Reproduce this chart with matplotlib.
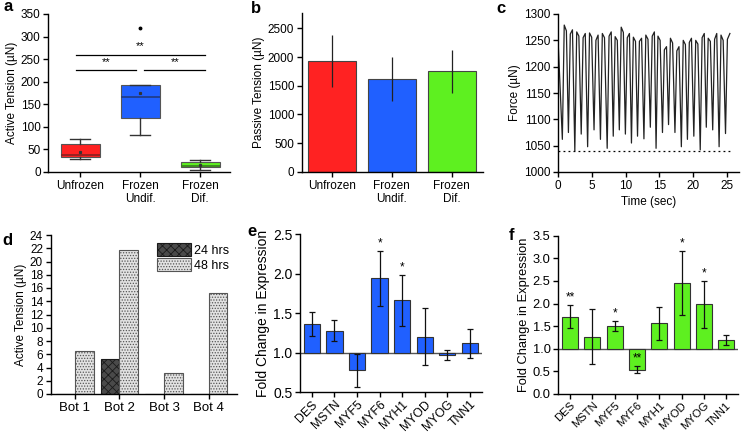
import matplotlib

matplotlib.use("Agg")
import matplotlib.pyplot as plt
import numpy as np

plt.rcParams["font.family"] = ["Liberation Sans", "DejaVu Sans"]
plt.rcParams["font.size"] = 8.5
plt.rcParams["hatch.linewidth"] = 0.6
plt.rcParams["axes.linewidth"] = 1.0

W, H = 742, 433

RED = "#ff2222"
BLUE = "#2060ff"
GREEN = "#5ef020"

# ---- panel a: box plot of active tension
GROUPS = ["Unfrozen", "Frozen\nUndif.", "Frozen\nDif."]
BOX_Q1 = [34, 120, 11]
BOX_MED = [38, 167, 13]
BOX_Q3 = [62, 192, 22]
BOX_LO = [29, 82, 5]
BOX_HI = [74, 192, 26]
BOX_MEAN = [45, 175, 15]
BOX_FLIERS = [[], [318], []]
BOX_COLORS = [RED, BLUE, GREEN]
MEDIAN_COLORS = ["#8a2020", "#203a80", "#3a7a20"]

# ---- panel b: passive tension
PASSIVE = [1930, 1620, 1750]
PASSIVE_ERR = [455, 377, 375]

# ---- panel c: force trace (troughs and the two tops of each twitch)
TRACE_START = (0.0, 1240)
TROUGH_T = [0.6, 1.5, 2.45, 3.4, 4.35, 5.3, 6.25, 7.25, 8.15, 9.05, 9.95, 10.85,
            11.75, 12.7, 13.65, 14.5, 15.45, 16.35, 17.3, 18.25, 19.15, 20.1,
            21.05, 21.95, 22.9, 23.85, 24.8]
TROUGH_F = [1062, 1075, 1040, 1072, 1048, 1080, 1062, 1045, 1068, 1080, 1072, 1055,
            1068, 1063, 1085, 1045, 1075, 1090, 1075, 1048, 1062, 1068, 1042, 1085,
            1080, 1048, 1073]
TOP1_T = [0.88, 1.78, 2.73, 3.68, 4.63, 5.58, 6.53, 7.53, 8.43, 9.33, 10.23, 11.13,
          12.03, 12.98, 13.93, 14.78, 15.73, 16.63, 17.58, 18.53, 19.43, 20.38, 21.33,
          22.23, 23.18, 24.13, 25.08]
TOP1_F = [1279, 1262, 1266, 1255, 1264, 1250, 1263, 1258, 1257, 1275, 1255, 1256,
          1248, 1260, 1258, 1258, 1232, 1254, 1230, 1250, 1246, 1250, 1255, 1254,
          1252, 1260, 1252]
TOP2_T = [1.2, 2.1, 3.05, 4.0, 4.95, 5.9, 6.85, 7.85, 8.75, 9.65, 10.55, 11.45,
          12.35, 13.3, 14.25, 15.1, 16.05, 16.95, 17.9, 18.85, 19.75, 20.7, 21.65,
          22.55, 23.5, 24.45, 25.45]
TOP2_F = [1268, 1270, 1258, 1263, 1256, 1260, 1255, 1266, 1250, 1265, 1263, 1248,
          1254, 1252, 1266, 1250, 1238, 1245, 1238, 1242, 1254, 1243, 1263, 1248,
          1263, 1250, 1263]
BASELINE_F = 1040

# ---- panel d: active tension by bot
BOTS = ["Bot 1", "Bot 2", "Bot 3", "Bot 4"]
T24 = [0, 5.3, 0, 0]
T48 = [6.5, 21.7, 3.2, 15.2]

# ---- panels e, f: fold change in expression
GENES = ["DES", "MSTN", "MYF5", "MYF6", "MYH1", "MYOD", "MYOG", "TNN1"]
E_VAL = [1.36, 1.28, 0.78, 1.94, 1.66, 1.20, 0.97, 1.12]
E_ERR = [0.15, 0.13, 0.21, 0.35, 0.32, 0.36, 0.065, 0.185]
E_SIG = ["", "", "", "*", "*", "", "", ""]
F_VAL = [1.71, 1.27, 1.51, 0.54, 1.56, 2.46, 1.98, 1.20]
F_ERR = [0.26, 0.60, 0.11, 0.075, 0.37, 0.71, 0.52, 0.115]
F_SIG = ["**", "", "*", "**", "", "*", "*", ""]


def rect(left, top, right, bottom):
    return [left / W, 1 - bottom / H, (right - left) / W, (bottom - top) / H]


def style(ax, size=8.5):
    for s in ("top", "right"):
        ax.spines[s].set_visible(False)
    ax.tick_params(direction="out", length=3.5, width=1, labelsize=size, pad=2)


fig = plt.figure(figsize=(W / 100, H / 100), dpi=100)

# ---------------- a
ax = fig.add_axes(rect(48.3, 14, 230, 172))
style(ax)
stats = []
for i in range(3):
    stats.append(dict(q1=BOX_Q1[i], med=BOX_MED[i], q3=BOX_Q3[i], whislo=BOX_LO[i],
                      whishi=BOX_HI[i], mean=BOX_MEAN[i], fliers=BOX_FLIERS[i]))
pos = np.arange(1, 4)
bp = ax.bxp(stats, positions=pos, widths=0.65, patch_artist=True, showmeans=True,
            meanprops=dict(marker="s", markersize=1.3, markerfacecolor="#333",
                           markeredgecolor="#333"),
            flierprops=dict(marker="o", markersize=1.8, markerfacecolor="k",
                            markeredgecolor="k"),
            whiskerprops=dict(color="#333", lw=1), capprops=dict(color="#333", lw=1),
            capwidths=0.32)
for patch, c in zip(bp["boxes"], BOX_COLORS):
    patch.set_facecolor(c)
    patch.set_edgecolor("#555")
    patch.set_linewidth(0.8)
for med, c in zip(bp["medians"], MEDIAN_COLORS):
    med.set_color(c)
    med.set_linewidth(1.2)
ax.plot([0.94, 3.08], [259, 259], color="k", lw=0.9)
ax.plot([0.94, 1.94], [225, 225], color="k", lw=0.9)
ax.plot([2.06, 3.08], [225, 225], color="k", lw=0.9)
ax.text(2.0, 268, "**", ha="center", va="bottom", fontsize=8)
ax.text(1.43, 233, "**", ha="center", va="bottom", fontsize=8)
ax.text(2.58, 233, "**", ha="center", va="bottom", fontsize=8)
ax.set_xlim(0.47, 3.5)
ax.set_ylim(0, 350)
ax.set_yticks(range(0, 351, 50))
ax.set_xticks(pos)
ax.set_xticklabels(GROUPS, linespacing=1.15)
ax.set_ylabel("Active Tension (µN)", labelpad=2)

# ---------------- b
ax = fig.add_axes(rect(301.7, 13.3, 482.7, 172))
style(ax)
ax.bar(pos, PASSIVE, width=0.8, color=BOX_COLORS, edgecolor="#444", linewidth=0.8)
ax.errorbar(pos, PASSIVE, yerr=PASSIVE_ERR, fmt="none", ecolor="#222", elinewidth=0.9,
            capsize=0)
ax.set_xlim(0.5, 3.52)
ax.set_ylim(0, 2760)
ax.set_yticks(range(0, 2501, 500))
ax.set_xticks(pos)
ax.set_xticklabels(GROUPS, linespacing=1.15)
ax.set_ylabel("Passive Tension (µN)", labelpad=2)

# ---------------- c
ax = fig.add_axes(rect(558.3, 14, 739, 172))
style(ax)
trace_t = [TRACE_START[0]]
trace_f = [TRACE_START[1]]
for i in range(len(TROUGH_T)):
    trace_t += [TROUGH_T[i], TOP1_T[i], TOP2_T[i]]
    trace_f += [TROUGH_F[i], TOP1_F[i], TOP2_F[i]]
ax.plot(trace_t, trace_f, color="#222", lw=0.9)
ax.plot([0, trace_t[-1]], [BASELINE_F, BASELINE_F], color="k", lw=0.9, ls=(0, (1.5, 2.5)))
ax.set_xlim(0, 26.8)
ax.set_ylim(1000, 1300)
ax.set_xticks(range(0, 26, 5))
ax.set_yticks(range(1000, 1301, 50))
ax.set_xlabel("Time (sec)", labelpad=3)
ax.set_ylabel("Force (µN)", labelpad=2)

# ---------------- d
ax = fig.add_axes(rect(50.7, 235, 236.7, 394))
style(ax)
ax.tick_params(axis="x", labelsize=9.5)
bx = np.arange(1, 5)
ax.bar(bx - 0.21, T24, width=0.42, color="#4a4a4a", edgecolor="#1a1a1a", hatch="xxxx",
       linewidth=0.8, label="24 hrs")
ax.bar(bx + 0.21, T48, width=0.42, color="#e2e2e2", edgecolor="#555", hatch="......",
       linewidth=0.8, label="48 hrs")
ax.set_xlim(0.46, 4.63)
ax.set_ylim(0, 24)
ax.set_yticks(range(0, 25, 2))
ax.set_xticks(bx)
ax.set_xticklabels(BOTS)
ax.set_ylabel("Active Tension (µN)", labelpad=2)
ax.legend(loc="upper right", bbox_to_anchor=(1.0, 1.0), frameon=False, fontsize=9,
          handlelength=2.7, handleheight=1.3, labelspacing=0.1, handletextpad=0.25,
          borderaxespad=0.2)


# ---------------- e, f
def fold_panel(r, vals, errs, sigs, ylim, yticks, color, size):
    ax = fig.add_axes(r)
    style(ax, size)
    gx = np.arange(len(GENES))
    heights = [v - 1 for v in vals]
    ax.axhline(1.0, color="#555", lw=1.0, zorder=1)
    ax.bar(gx, heights, bottom=1.0, width=0.72, color=color, edgecolor="#333",
           linewidth=0.8, zorder=2)
    ax.errorbar(gx, vals, yerr=errs, fmt="none", ecolor="#111", elinewidth=0.9,
                capsize=2, capthick=0.9, zorder=3)
    for x, v, e, s in zip(gx, vals, errs, sigs):
        if s:
            ax.annotate(s, (x, v + e), xytext=(0, 1), textcoords="offset points",
                        ha="center", va="bottom", fontsize=8.5)
    ax.set_xlim(-0.53, 7.53)
    ax.set_ylim(*ylim)
    ax.set_yticks(yticks)
    ax.set_yticklabels([f"{t:.1f}" for t in yticks])
    ax.set_xticks(gx)
    ax.set_xticklabels(GENES, rotation=45, ha="right", rotation_mode="anchor",
                       fontsize=size - 1.2)
    ax.tick_params(axis="x", pad=1)
    ax.set_ylabel("Fold Change in Expression", labelpad=2, fontsize=size)
    return ax


fold_panel(rect(300, 234, 481.7, 392.3), E_VAL, E_ERR, E_SIG, (0.5, 2.5),
           [0.5, 1.0, 1.5, 2.0, 2.5], BLUE, 10)
fold_panel(rect(558.3, 235.7, 738, 394), F_VAL, F_ERR, F_SIG, (0.0, 3.5),
           [0.0, 0.5, 1.0, 1.5, 2.0, 2.5, 3.0, 3.5], GREEN, 9.3)

# panel letters
for letter, x, y in [("a", 3, 11), ("b", 251, 13), ("c", 496, 13), ("d", 2, 245),
                     ("e", 247, 236), ("f", 509, 240)]:
    fig.text(x / W, 1 - y / H, letter, fontsize=12, fontweight="bold",
             ha="left", va="baseline")

fig.savefig("out.png", dpi=100)
